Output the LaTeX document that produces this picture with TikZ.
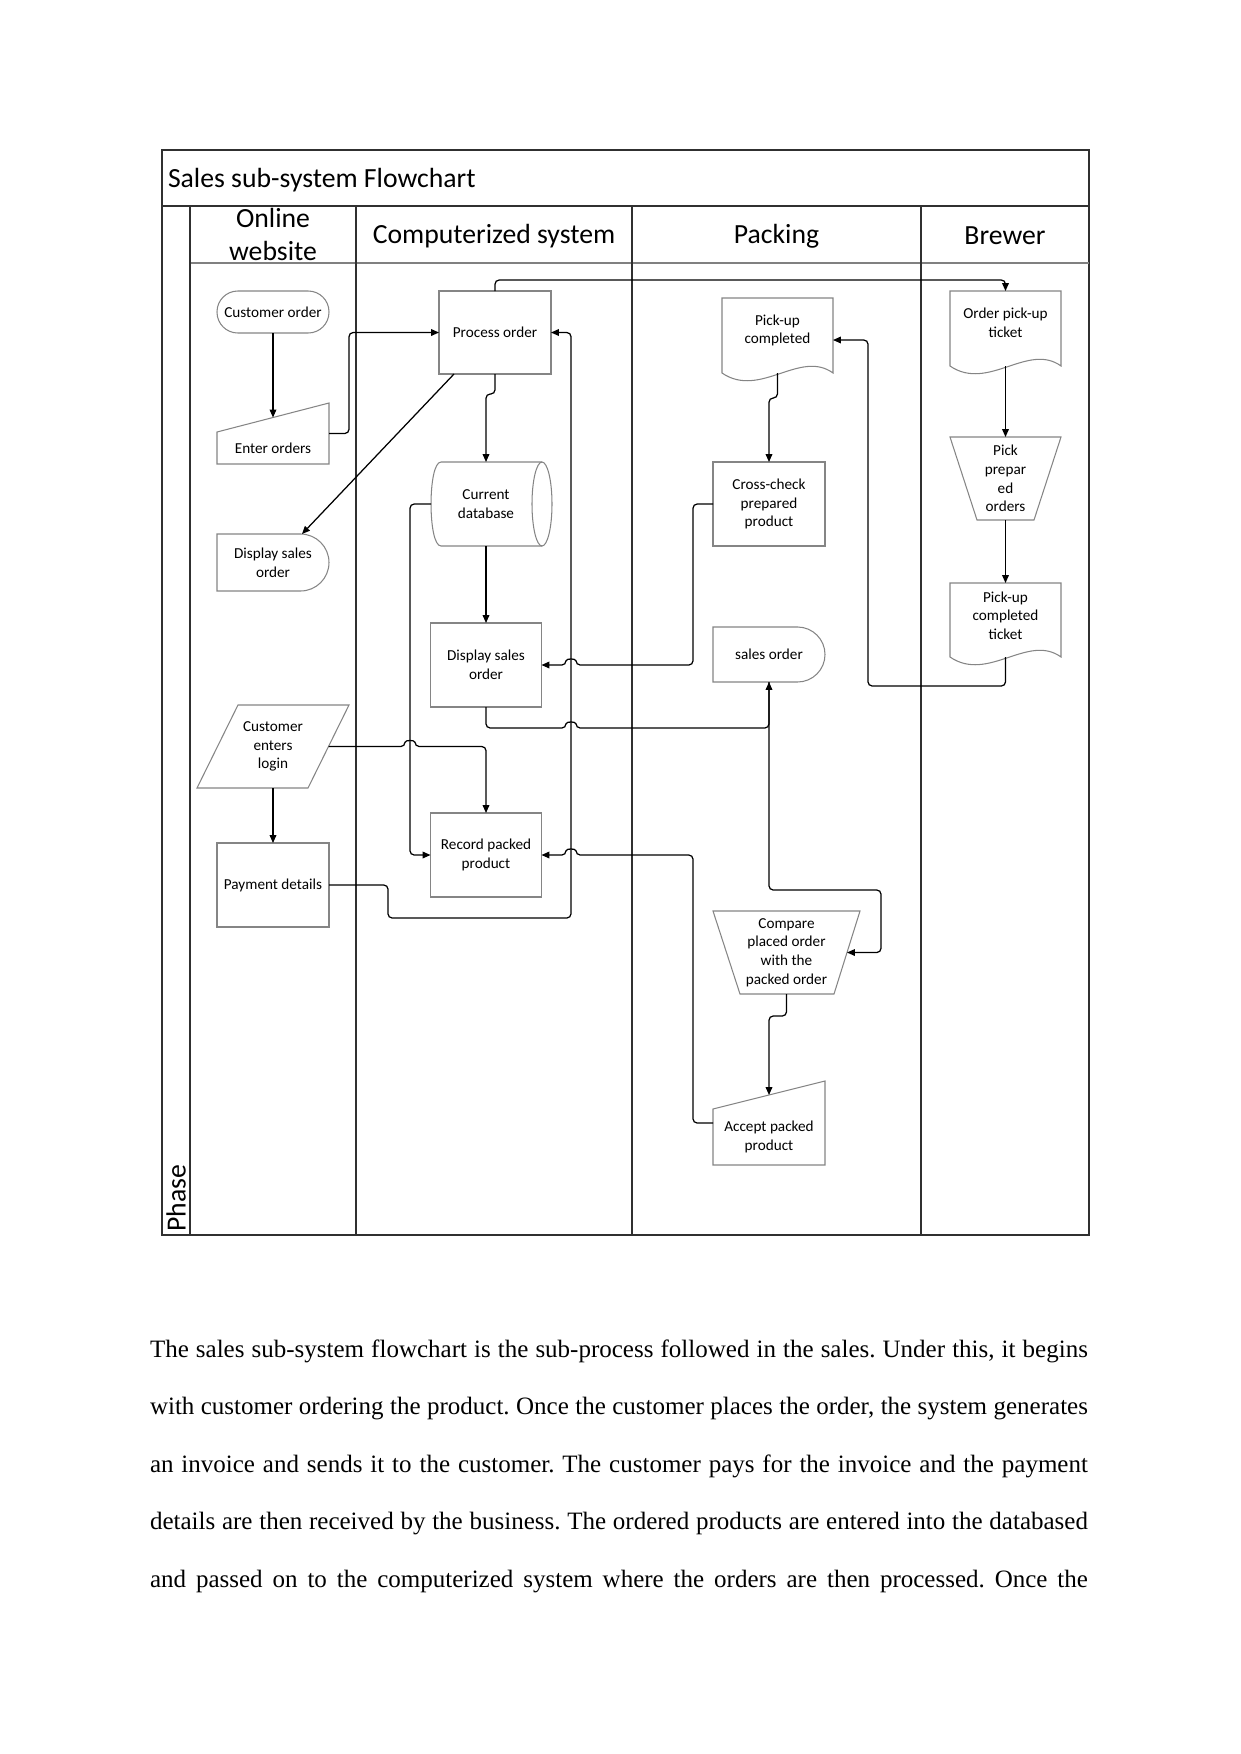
\documentclass[tikz,border=0pt]{standalone}
\usepackage{fontspec}
\setmainfont{Liberation Serif}
\newfontfamily\calfont{Carlito}
\usetikzlibrary{arrows.meta,calc}
\definecolor{shpc}{HTML}{858585}
\definecolor{lanec}{HTML}{303030}
\newcommand\docshape[4]{\draw[outl] (#1,#4) -- (#1,#2) -- (#3,#2) -- (#3,#4) .. controls +(-33,-24) and +(38,26) .. (#1,#4) -- cycle;}
\begin{document}
\begin{tikzpicture}[x=0.48pt,y=-0.48pt,
  outl/.style={draw=shpc,line width=0.5pt},
  bb/.style={inner sep=0pt,outer sep=0pt},
  txt/.style={bb,align=center,font=\calfont\fontsize{7.3}{8.9}\selectfont},
  rbox/.style={txt,draw=shpc,line width=0.5pt,minimum width=112*0.48pt,minimum height=84*0.48pt},
  conn/.style={draw=black,line width=0.6pt,rounded corners=2pt},
  arr/.style={conn,-{Triangle[length=3.8pt,width=3.2pt]}},
  lanel/.style={draw=lanec,line width=0.8pt},
  hdr/.style={bb,align=center,font=\calfont\fontsize{13.3}{15.4}\selectfont},
]
\fill[white] (0,0) rectangle (1241,1754);
\useasboundingbox (0,0) rectangle (1241,1754);

% frame and lanes
\draw[lanel] (162,150) rectangle (1089,1235);
\draw[lanel] (162,206) -- (1089,206);
\draw[draw=gray,line width=0.8pt] (190,263) -- (1089,263);
\draw[lanel] (190,206) -- (190,1235);
\draw[lanel] (356,206) -- (356,1235);
\draw[lanel] (632,206) -- (632,1235);
\draw[lanel] (921,206) -- (921,1235);

\node[hdr,anchor=west] (title) at (168,180) {Sales sub-system Flowchart};
\node[hdr] (h1) at (273,234.5) {Online\\website};
\node[hdr] (h2) at (494,236) {Computerized system};
\node[hdr] (h3) at (776.5,236) {Packing};
\node[hdr] (h4) at (1005,235.5) {Brewer};
\node[hdr,rotate=90] (phase) at (176,1198) {Phase};

% lane 1
\node[txt,draw=shpc,line width=0.5pt,rounded corners=10pt,minimum width=112*0.48pt,minimum height=42*0.48pt] (co) at (273,312) {Customer order};
\node[bb,minimum width=112*0.48pt,minimum height=61*0.48pt] (eo) at (273,433.5) {};
\draw[outl] (217,432) -- (329,403) -- (329,464) -- (217,464) -- cycle;
\node[txt] (eot) at (273,448) {Enter orders};
\coordinate (eoin) at (273,417.5);
\node[txt,minimum width=112*0.48pt,minimum height=57*0.48pt] (dso1) at (273,562.5) {Display sales\\order};
\draw[outl] (300.5,534) -- (217,534) -- (217,591) -- (300.5,591) arc[start angle=-90,end angle=90,radius=28.5*0.48pt] -- cycle;
\node[txt,minimum width=152*0.48pt,minimum height=83*0.48pt] (cel) at (273,746.5) {Customer\\enters\\login};
\draw[outl] (238,705) -- (349,705) -- (308,788) -- (197,788) -- cycle;
\coordinate (celr) at (328.5,746.5);
\node[rbox] (pd) at (273,885) {Payment details};

% lane 2
\node[rbox,minimum height=83*0.48pt] (po) at (495,332.5) {Process order};
\node[txt,minimum width=110*0.48pt,minimum height=84*0.48pt] (db) at (486,504) {Current\\database};
\draw[outl] (542,462) -- (441,462) .. controls (427.7,462) and (427.7,546) .. (441,546) -- (542,546);
\draw[outl] (542,504) ellipse [x radius=10*0.48pt,y radius=42*0.48pt];
\node[rbox,minimum width=111*0.48pt] (dso2) at (486,665) {Display sales\\order};
\node[rbox,minimum width=111*0.48pt] (rpp) at (486,855) {Record packed\\product};

% lane 3
\node[bb,minimum width=111*0.48pt,minimum height=75*0.48pt] (puc) at (777.5,335.5) {};
\docshape{722}{298}{833}{373}
\node[txt] (puct) at (777.5,330.5) {Pick-up\\completed};
\node[rbox] (cc) at (769,504) {Cross-check\\prepared\\product};
\node[txt,minimum width=112*0.48pt,minimum height=55*0.48pt] (so) at (769,654.5) {sales order};
\draw[outl] (797.5,627) -- (713,627) -- (713,682) -- (797.5,682) arc[start angle=-90,end angle=90,radius=27.5*0.48pt] -- cycle;
\node[txt,minimum width=147*0.48pt,minimum height=83*0.48pt] (cmp) at (786.5,952.5) {Compare\\placed order\\with the\\packed order};
\draw[outl] (713,911) -- (860,911) -- (834,994) -- (740,994) -- cycle;
\coordinate (cmpr) at (847,952.5);
\node[bb,minimum width=112*0.48pt,minimum height=84*0.48pt] (app) at (769,1123) {};
\draw[outl] (713,1109) -- (825,1081) -- (825,1165) -- (713,1165) -- cycle;
\node[txt] (appt) at (769,1137) {Accept packed\\product};
\coordinate (appin) at (769,1095);

% lane 4
\node[bb,minimum width=111*0.48pt,minimum height=75*0.48pt] (opt) at (1005.5,328.5) {};
\docshape{950}{291}{1061}{366}
\node[txt] (optt) at (1005.5,323) {Order pick-up\\ticket};
\node[txt,minimum width=111*0.48pt,minimum height=83*0.48pt] (ppo) at (1005.5,478.5) {Pick\\prepar\\ed\\orders};
\draw[outl] (950,437) -- (1061,437) -- (1034,520) -- (977,520) -- cycle;
\node[bb,minimum width=111*0.48pt,minimum height=74*0.48pt] (pct) at (1005.5,620) {};
\docshape{950}{583}{1061}{657}
\node[txt] (pctt) at (1005.5,615.5) {Pick-up\\completed\\ticket};

% connectors
\draw[arr] (co.south) -- (eoin);
\draw[arr] (eo.east) -- (349,433.5) -- (349,332.5) -- (po.west);
\draw[arr] ($(po.south west)+(15,0)$) -- ($(dso1.north)+(29,0)$);
\draw[arr] (po.south) -- ++(0,20) -| (db.north);
\draw[arr] (db.south) -- (dso2.north);
\draw[arr] (db.west) -- (410,504) -- (410,855) -- (rpp.west);
\draw[arr] (celr) -- (405,746.5) .. controls +(0,-6.7) and +(0,-6.7) .. (415,746.5) -- (486,746.5) -- (rpp.north);
\draw[arr] (cel.south) -- (pd.north);
\draw[arr] (pd.east) -- (388,885) -- (388,918) -- (571,918) -- (571,332.5) -- (po.east);
\draw[arr] (cc.west) -- (693,504) -- (693,665) -- (576,665) .. controls +(0,-6.7) and +(0,-6.7) .. (566,665) -- (dso2.east);
\draw[arr] (dso2.south) -- (486,728) -- (566,728) .. controls +(0,-6.7) and +(0,-6.7) .. (576,728) -- (769,728) -- (so.south);
\draw[arr] (so.south) -- (769,890) -- (881,890) -- (881,952.5) -- (cmpr);
\draw[arr] (cmp.south) -- ++(0,22) -| (appin);
\draw[arr] (app.west) -- (693,1123) -- (693,855) -- (576,855) .. controls +(0,-6.7) and +(0,-6.7) .. (566,855) -- (rpp.east);
\draw[arr] (puc.south) -- ++(0,25) -| (cc.north);
\draw[arr] (opt.south) -- (ppo.north);
\draw[arr] (ppo.south) -- (pct.north);
\draw[arr] (pct.south) -- (1005.5,686) -- (868,686) -- (868,340) -- ($(puc.east)+(0,4.5)$);
\draw[arr] (po.north) -- ++(0,-11) -| (opt.north);

% body text
\node[bb,anchor=base west] (body) at (150,1357) {\vtop{\frenchspacing\fontsize{12}{27.6}\selectfont\hsize=450.2pt\baselineskip=27.6pt
\hbox to\hsize{The sales sub-system flowchart is the sub-process followed in the sales. Under this, it begins}
\hbox to\hsize{with customer ordering the product. Once the customer places the order, the system generates}
\hbox to\hsize{an invoice and sends it to the customer. The customer pays for the invoice and the payment}
\hbox to\hsize{details are then received by the business. The ordered products are entered into the databased}
\hbox to\hsize{and passed on to the computerized system where the orders are then processed. Once the}}};
\end{tikzpicture}
\end{document}
